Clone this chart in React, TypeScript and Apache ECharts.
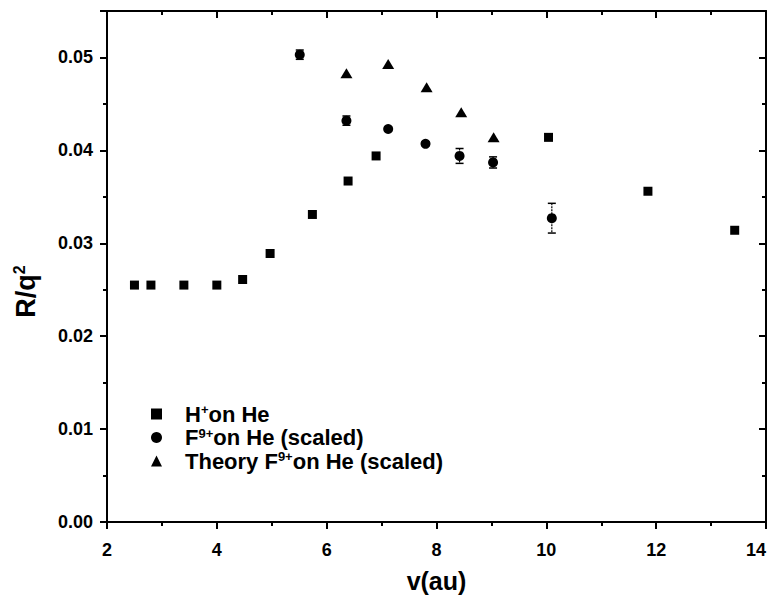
import React, { useEffect, useRef } from 'react';
import * as echarts from 'echarts';

// H+ on He
const hX = [2.5, 2.8, 3.4, 4.0, 4.47, 4.97, 5.74, 6.39, 6.9, 10.04, 11.85, 13.43];
const hY = [0.0255, 0.0255, 0.0255, 0.0255, 0.0261, 0.0289, 0.0331, 0.0367, 0.0394, 0.0414, 0.0356, 0.0314];
// F9+ on He (scaled), with error
const fX = [5.51, 6.36, 7.12, 7.8, 8.42, 9.03, 10.1];
const fY = [0.0503, 0.0432, 0.0423, 0.0407, 0.0394, 0.0387, 0.0327];
const fErr = [0.0005, 0.0005, 0.0002, 0.0002, 0.0008, 0.0006, 0.0016];
// Theory F9+ on He (scaled)
const tX = [6.36, 7.12, 7.82, 8.45, 9.04];
const tY = [0.0483, 0.0493, 0.0468, 0.0441, 0.0414];

const seriesNames = ['H+ on He', 'F9+ on He (scaled)', 'Theory F9+ on He (scaled)'];
const legendRich: Record<string, string> = {
  'H+ on He': '{g| }{n|H}{s|+}{n|on He}',
  'F9+ on He (scaled)': '{g| }{n|F}{s|9+}{n|on He (scaled)}',
  'Theory F9+ on He (scaled)': '{g| }{n|Theory F}{s|9+}{n|on He (scaled)}',
};

const FONT = '"Liberation Sans", Arial, sans-serif';

export default function App() {
  const ref = useRef<HTMLDivElement>(null);
  useEffect(() => {
    if (!ref.current) return;
    const chart = echarts.init(ref.current, null, { renderer: 'svg' });
    const lineStyle = { color: '#000', width: 2 };
    const baseX = {
      type: 'value',
      min: 2,
      max: 14,
      interval: 2,
      splitLine: { show: false },
      minorSplitLine: { show: false },
      axisLine: { show: true, onZero: false, lineStyle },
    };
    const baseY = {
      type: 'value',
      min: 0,
      max: 0.055,
      interval: 0.01,
      splitLine: { show: false },
      minorSplitLine: { show: false },
      axisLine: { show: true, onZero: false, lineStyle },
    };
    chart.setOption({
      animation: false,
      backgroundColor: '#fff',
      textStyle: { fontFamily: FONT },
      grid: { left: 107, top: 11, width: 659, height: 511, outerBoundsMode: 'none', containLabel: false },
      xAxis: [
        {
          ...baseX,
          position: 'bottom',
          axisTick: { show: true, inside: false, length: 7, lineStyle },
          minorTick: { show: true, splitNumber: 2, length: 4, lineStyle },
          axisLabel: {
            fontSize: 18,
            fontWeight: 'bold',
            color: '#000',
            margin: 19,
            fontFamily: FONT,
            alignMaxLabel: 'right',
          },
          name: 'v(au)',
          nameLocation: 'middle',
          nameGap: 46,
          nameTextStyle: { fontSize: 25, fontWeight: 'bold', color: '#000', fontFamily: FONT },
        },
        {
          ...baseX,
          position: 'top',
          axisTick: { show: true, inside: true, length: 7, lineStyle },
          minorTick: { show: true, splitNumber: 2, length: 4, lineStyle },
          axisLabel: { show: false },
        },
      ],
      yAxis: [
        {
          ...baseY,
          position: 'left',
          axisTick: { show: true, inside: false, length: 7, lineStyle },
          minorTick: { show: true, splitNumber: 2, length: 4, lineStyle },
          axisLabel: {
            fontSize: 18,
            fontWeight: 'bold',
            color: '#000',
            margin: 14,
            showMaxLabel: false,
            fontFamily: FONT,
            formatter: (v: number) => v.toFixed(2),
          },
          name: '{a|R/q}{b|2}',
          nameLocation: 'middle',
          nameGap: 66,
          nameRotate: 90,
          nameTextStyle: {
            color: '#000',
            padding: [0, 50, 0, 0],
            rich: {
              a: { fontSize: 27, fontWeight: 'bold', color: '#000', lineHeight: 30, fontFamily: FONT },
              b: { fontSize: 16, fontWeight: 'bold', color: '#000', verticalAlign: 'top', fontFamily: FONT },
            },
          },
        },
        {
          ...baseY,
          position: 'right',
          axisTick: { show: true, inside: true, length: 7, lineStyle },
          minorTick: { show: true, splitNumber: 2, length: 4, lineStyle },
          axisLabel: { show: false },
        },
      ],
      legend: {
        orient: 'vertical',
        left: 146,
        top: 398,
        itemWidth: 11,
        itemHeight: 11,
        itemGap: 1.5,
        data: seriesNames,
        formatter: (name: string) => legendRich[name] || name,
        textStyle: {
          color: '#000',
          rich: {
            g: { width: 18 },
            n: { fontSize: 22, fontWeight: 'bold', color: '#000', lineHeight: 22, fontFamily: FONT },
            s: { fontSize: 13, fontWeight: 'bold', color: '#000', verticalAlign: 'top', lineHeight: 12, fontFamily: FONT },
          },
        },
      },
      series: [
        {
          type: 'custom',
          xAxisIndex: 0,
          yAxisIndex: 0,
          silent: true,
          data: fX.map((x, i) => [x, fY[i], fErr[i]]),
          renderItem: (_params: any, api: any) => {
            const x = api.value(0);
            const y = api.value(1);
            const e = api.value(2);
            const top = api.coord([x, y + e]);
            const bot = api.coord([x, y - e]);
            const w = 4;
            return {
              type: 'group',
              children: [
                { type: 'line', shape: { x1: top[0], y1: top[1], x2: bot[0], y2: bot[1] }, style: { stroke: '#000', lineWidth: 1.2, lineDash: [2, 1] } },
                { type: 'line', shape: { x1: top[0] - w, y1: top[1], x2: top[0] + w, y2: top[1] }, style: { stroke: '#000', lineWidth: 1.5 } },
                { type: 'line', shape: { x1: bot[0] - w, y1: bot[1], x2: bot[0] + w, y2: bot[1] }, style: { stroke: '#000', lineWidth: 1.5 } },
              ],
            };
          },
        },
        {
          name: seriesNames[0],
          type: 'scatter',
          symbol: 'rect',
          symbolSize: 9,
          itemStyle: { color: '#000', opacity: 1 },
          data: hX.map((x, i) => [x, hY[i]]),
        },
        {
          name: seriesNames[1],
          type: 'scatter',
          symbol: 'circle',
          symbolSize: 10,
          itemStyle: { color: '#000', opacity: 1 },
          data: fX.map((x, i) => [x, fY[i]]),
        },
        {
          name: seriesNames[2],
          type: 'scatter',
          symbol: 'triangle',
          symbolSize: [12, 10],
          itemStyle: { color: '#000', opacity: 1 },
          data: tX.map((x, i) => [x, tY[i]]),
        },
      ],
    });
    return () => chart.dispose();
  }, []);
  return (
    <div
      ref={ref}
      style={{ position: 'fixed', left: 0, top: 0, width: 774, height: 596, background: '#fff' }}
    />
  );
}
